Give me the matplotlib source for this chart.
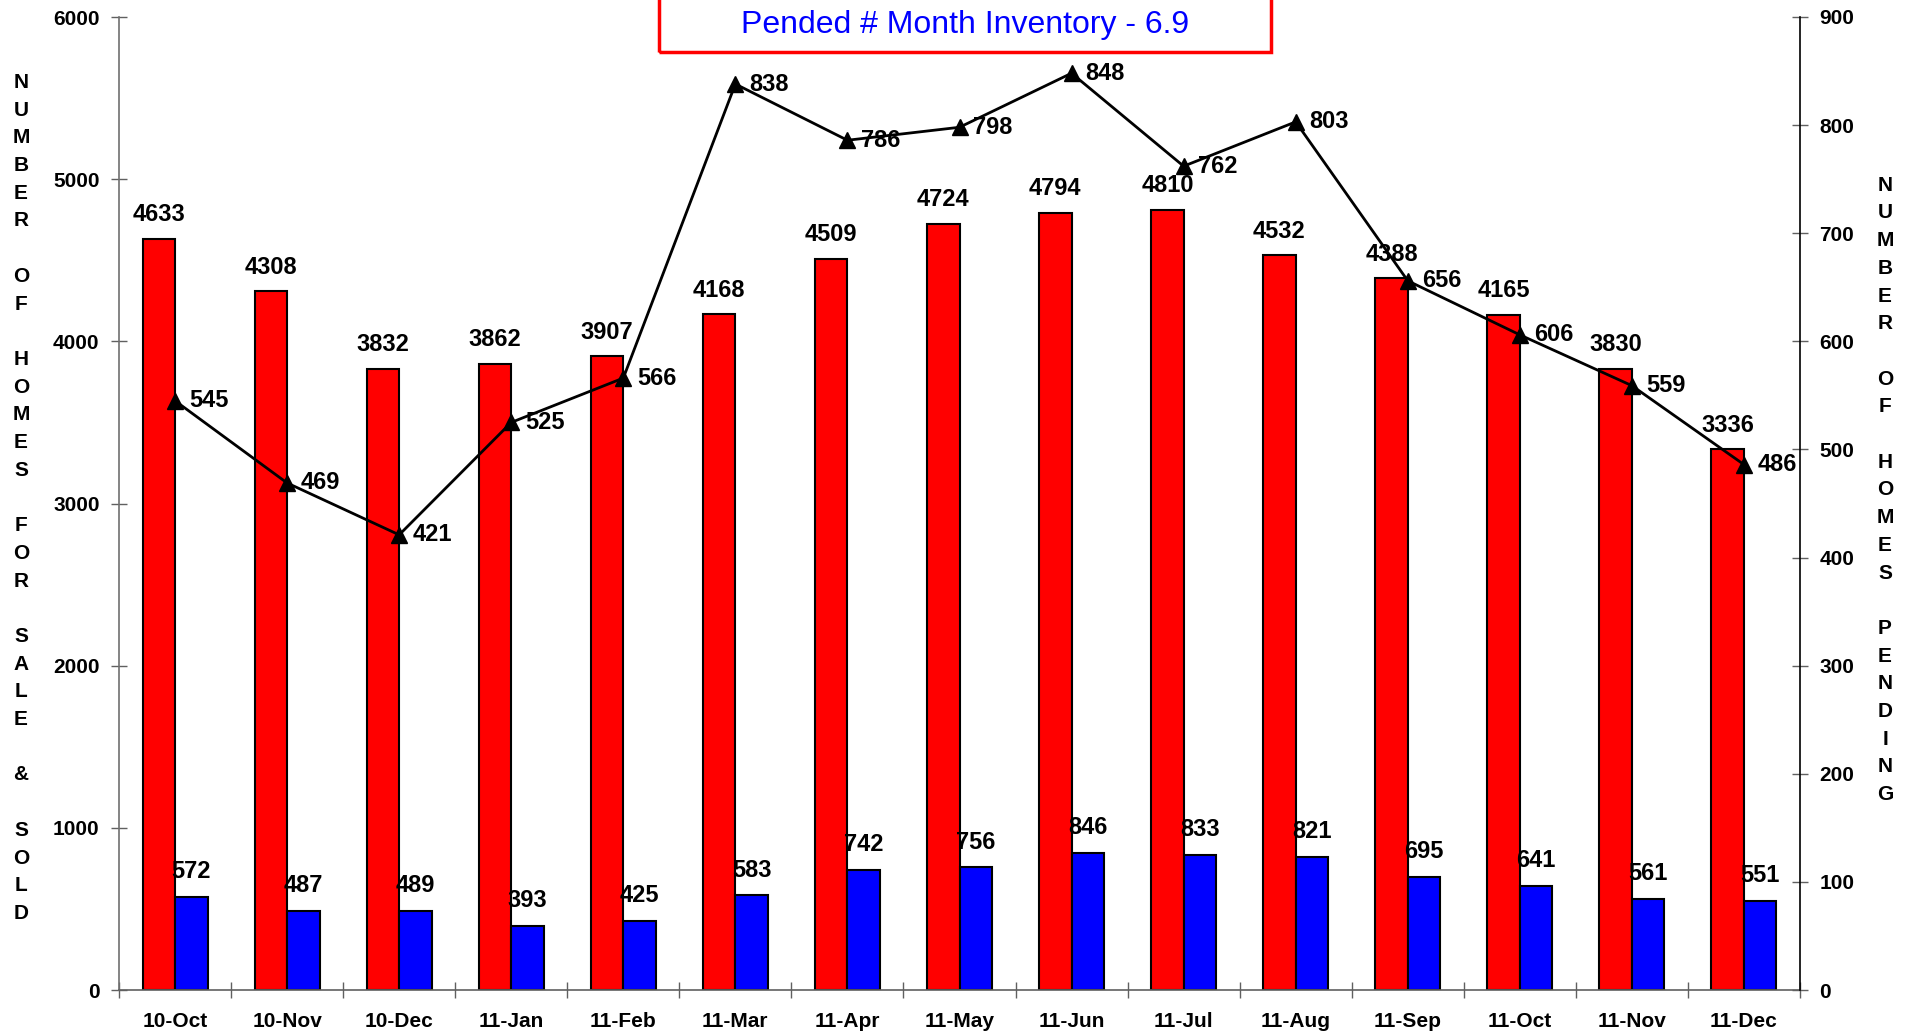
import matplotlib

matplotlib.use("Agg")

import matplotlib.pyplot as plt
import numpy as np

plt.rcParams["font.family"] = ["Liberation Sans", "DejaVu Sans"]

MONTHS = ["10-Oct", "10-Nov", "10-Dec", "11-Jan", "11-Feb", "11-Mar", "11-Apr",
          "11-May", "11-Jun", "11-Jul", "11-Aug", "11-Sep", "11-Oct", "11-Nov",
          "11-Dec"]
FOR_SALE = [4633, 4308, 3832, 3862, 3907, 4168, 4509, 4724, 4794, 4810, 4532,
            4388, 4165, 3830, 3336]
SOLD = [572, 487, 489, 393, 425, 583, 742, 756, 846, 833, 821, 695, 641, 561, 551]
PENDING = [545, 469, 421, 525, 566, 838, 786, 798, 848, 762, 803, 656, 606, 559, 486]

TITLE = "Pended # Month Inventory - 6.9"
LEFT_LABEL = "NUMBER OF HOMES FOR SALE & SOLD"
RIGHT_LABEL = "NUMBER OF HOMES PENDING"


def stacked(text):
    # one letter per line, blank line between words
    return "\n".join(" " if ch == " " else ch for ch in text).replace(" ", "")


W, H = 1911, 1033
fig = plt.figure(figsize=(W / 100, H / 100), dpi=100)
ax = fig.add_axes([119 / W, 1 - 990 / H, (1800 - 119) / W, (990 - 17) / H])

x = np.arange(len(MONTHS))
width = 0.29

ax.bar(x - width / 2, FOR_SALE, width, color="#FF0000", edgecolor="black",
       linewidth=1.5, zorder=2)
ax.bar(x + width / 2, SOLD, width, color="#0000FF", edgecolor="black",
       linewidth=1.5, zorder=2)

for i in x:
    ax.annotate(f"{FOR_SALE[i]}", (i - width / 2, FOR_SALE[i]),
                xytext=(0, 9), textcoords="offset points", ha="center",
                va="bottom", fontsize=17, fontweight="bold")
    ax.annotate(f"{SOLD[i]}", (i + width / 2, SOLD[i]),
                xytext=(0, 10), textcoords="offset points", ha="center",
                va="bottom", fontsize=17, fontweight="bold")

ax.set_xlim(-0.5, len(MONTHS) - 0.5)
ax.set_ylim(0, 6000)
ax.set_yticks(range(0, 6001, 1000))
ax.set_xticks(np.arange(-0.5, len(MONTHS), 1.0))
ax.set_xticklabels([])
ax.set_xticks(x, minor=True)
ax.set_xticklabels(MONTHS, minor=True, fontsize=15, fontweight="bold")
ax.tick_params(axis="x", which="major", direction="inout", length=12,
               color="#606060", width=1)
ax.tick_params(axis="x", which="minor", length=0, pad=16)
ax.tick_params(axis="y", direction="inout", length=12, color="#606060",
               width=1, pad=8)
for lab in ax.get_yticklabels():
    lab.set_fontsize(15)
    lab.set_fontweight("bold")

for s in ["top", "right"]:
    ax.spines[s].set_visible(False)
ax.spines["left"].set_color("#707070")
ax.spines["bottom"].set_color("#606060")
ax.spines["left"].set_linewidth(1.2)
ax.spines["bottom"].set_linewidth(1.2)

ax2 = ax.twinx()
ax2.plot(x, PENDING, color="black", linewidth=2, marker="^", markersize=11,
         zorder=3)
for i in x:
    ax2.annotate(f"{PENDING[i]}", (i, PENDING[i]), xytext=(10, 0),
                 textcoords="offset points", ha="left", va="center",
                 fontsize=17, fontweight="bold")
ax2.set_ylim(0, 900)
ax2.set_yticks(range(0, 901, 100))
ax2.tick_params(axis="y", direction="inout", length=12, color="#606060",
                width=1, pad=8)
for lab in ax2.get_yticklabels():
    lab.set_fontsize(15)
    lab.set_fontweight("bold")
for s in ["top", "left", "bottom"]:
    ax2.spines[s].set_visible(False)
ax2.spines["right"].set_color("black")
ax2.spines["right"].set_linewidth(1.2)

fig.text(21 / W, 1 - 498 / H, stacked(LEFT_LABEL), ha="center", va="center",
         fontsize=15, fontweight="bold", linespacing=1.58)
fig.text(1885 / W, 1 - 490 / H, stacked(RIGHT_LABEL), ha="center",
         va="center", fontsize=15, fontweight="bold", linespacing=1.58)

# red framed note at the top, partly cut off by the canvas edge
fig.patches.append(plt.Rectangle((659 / W, 1 - 52 / H), (1271 - 659) / W,
                                 0.2, transform=fig.transFigure, fill=False,
                                 edgecolor="#FF0000", linewidth=2.5))
fig.text(965 / W, 1 - 25 / H, TITLE, ha="center", va="center", fontsize=23,
         color="#0000FF")

fig.savefig("out.png", dpi=100)
